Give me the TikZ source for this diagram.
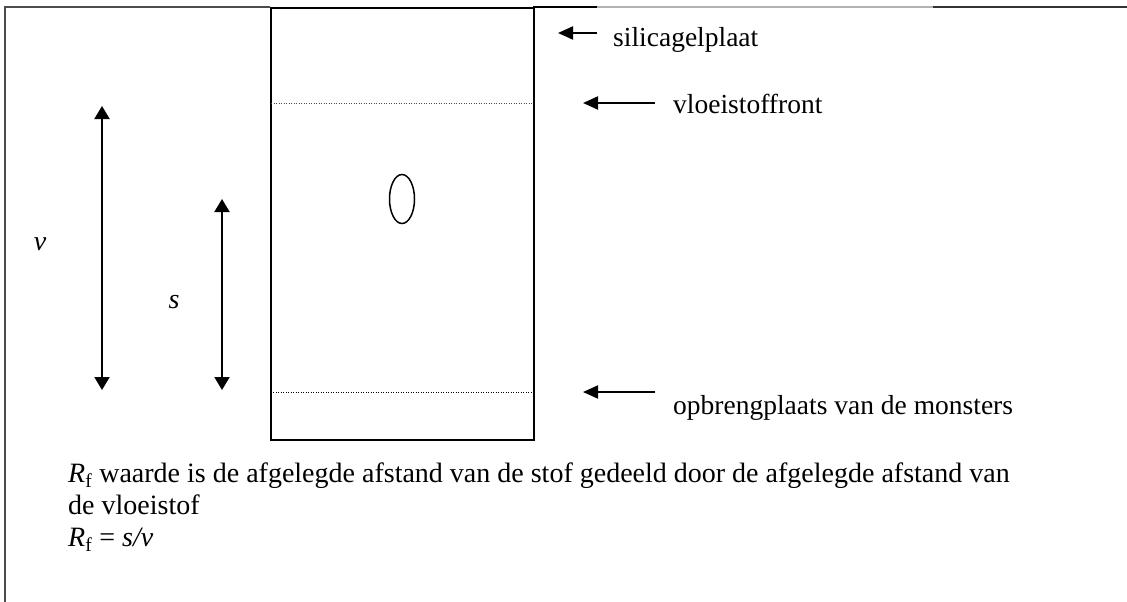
\documentclass[tikz,border=0pt]{standalone}
\usepackage{fontspec}
\setmainfont{Liberation Serif}
\usetikzlibrary{arrows.meta}
\begin{document}
\begin{tikzpicture}[x=1pt,y=-1pt,
  lbl/.style={anchor=base west, inner sep=0pt, font=\fontsize{27.5}{31}\selectfont},
  body/.style={anchor=base west, inner sep=0pt, font=\fontsize{28}{32}\selectfont},
  ptr/.style={line width=2pt, -{Triangle[length=15pt,width=13pt]}},
  dimarrow/.style={line width=2pt, {Triangle[length=13pt,width=15pt]}-{Triangle[length=13pt,width=15pt]}},
  dotline/.style={line width=1pt, dash pattern=on 1pt off 1.5pt}]
\useasboundingbox (0,0) rectangle (1127,602);
\fill[white] (0,0) rectangle (1127,602);
% frame
\draw[black!70, line width=1.5pt] (5,602) -- (5,7) -- (270,7);
\draw[black, line width=1.5pt] (533,7) -- (597,7);
\draw[black!30, line width=1.5pt] (597,7) -- (933,7);
\draw[black!80, line width=2pt] (933,7) -- (1127,7);
% plate
\node[draw, line width=2pt, minimum width=263pt, minimum height=432pt, inner sep=0pt, anchor=north west] (plate) at (270,7) {};
\coordinate (frontL) at (271,103);
\coordinate (frontR) at (532,103);
\coordinate (startL) at (273,392);
\coordinate (startR) at (531,392);
\draw[dotline, black!70, line width=0.8pt] (frontL) -- (frontR);
\draw[dotline] (startL) -- (startR);
\draw[line width=1.5pt] (402,199) ellipse [x radius=12.5pt, y radius=24.5pt];
% distance arrows
\coordinate (vtop) at (102,106);
\coordinate (vbot) at (102,390);
\coordinate (stop) at (222,199);
\coordinate (sbot) at (222,390);
\draw[dimarrow] (vtop) -- (vbot);
\draw[dimarrow] (stop) -- (sbot);
\node[font=\fontsize{28}{31}\selectfont\itshape, inner sep=0pt] (vlab) at (40,244) {v};
\node[font=\fontsize{28}{31}\selectfont\itshape, inner sep=0pt] (slab) at (174,302) {s};
% labels with pointers
\node[lbl] (sil) at (613,47) {silicagelplaat};
\node[lbl] (vfr) at (673,113) {vloeistoffront};
\node[lbl] (opb) at (673,414) {opbrengplaats van de monsters};
\coordinate (a1s) at (597,33);
\coordinate (a1e) at (558,33);
\coordinate (a2s) at (655,103);
\coordinate (a2e) at (583,103);
\coordinate (a3s) at (655,392);
\coordinate (a3e) at (583,392);
\draw[ptr] (a1s) -- (a1e);
\draw[ptr] (a2s) -- (a2e);
\draw[ptr] (a3s) -- (a3e);
% explanation
\node[body] (t1) at (68,482) {\textit{R}\textsubscript{f} waarde is de afgelegde afstand van de stof gedeeld door de afgelegde afstand van};
\node[body] (t2) at (68,514) {de vloeistof};
\node[body] (t3) at (68,546) {\textit{R}\textsubscript{f} = \textit{s/v}};
\end{tikzpicture}
\end{document}
